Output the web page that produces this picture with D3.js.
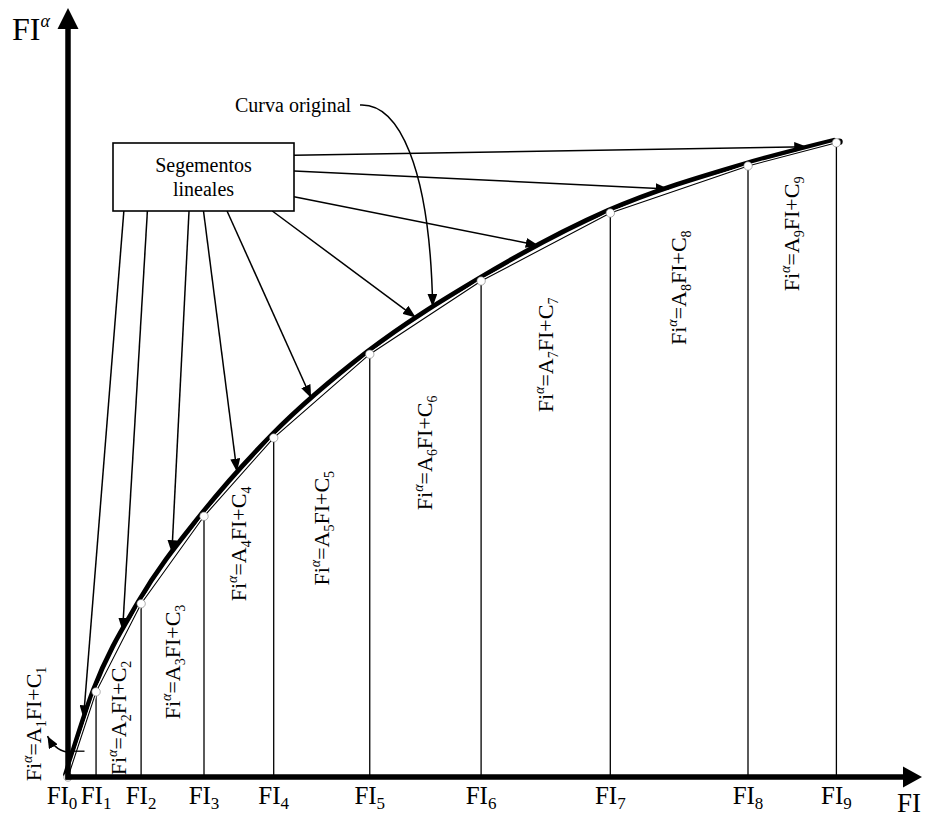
<!DOCTYPE html>
<html>
<head>
<meta charset="utf-8">
<script src="https://cdn.jsdelivr.net/npm/d3@7"></script>
<style>
  body { margin: 0; background: #fff; }
</style>
</head>
<body>
<div id="chart"></div>
<script>
// puntos de quiebre FI_k y su valor FI^alfa
const breakNames = ["0", "1", "2", "3", "4", "5", "6", "7", "8", "9"];
const fiValues = [0, 0.33, 0.86, 1.60, 2.42, 3.55, 4.86, 6.38, 8.00, 9.04];
const faValues = [0, 1.14, 2.32, 3.49, 4.54, 5.66, 6.64, 7.55, 8.18, 8.49];
// segmentos lineales 1..9 y el FI al que apunta cada flecha
const segNames = ["1", "2", "3", "4", "5", "6", "7", "8", "9"];
const arrowTargets = [0.21, 0.67, 1.25, 2.02, 2.90, 4.14, 5.59, 7.12, 8.75];
const labelLevels = [0.71, 0.79, 1.54, 3.12, 3.33, 4.34, 5.65, 6.55, 7.27];
const curveTarget = 4.32;
const tickTarget = 0.10;

const W = 928, H = 819;
const font = "'Liberation Serif', 'Times New Roman', serif";

const svg = d3.select("#chart").append("svg")
  .attr("width", W)
  .attr("height", H)
  .style("font-family", font);

const x = d3.scaleLinear().domain([0, 10]).range([68, 918]);
const y = d3.scaleLinear().domain([0, 10]).range([777, 30]);

// interpolacion sobre los segmentos
const segY = d3.scaleLinear().domain(fiValues).range(faValues);

const pts = fiValues.map((d, i) => [d, faValues[i]]);

// marcador de flecha
const defs = svg.append("defs");
defs.append("marker")
  .attr("id", "head")
  .attr("viewBox", "0 0 13 10")
  .attr("refX", 13).attr("refY", 5)
  .attr("markerWidth", 13).attr("markerHeight", 10)
  .attr("markerUnits", "userSpaceOnUse")
  .attr("orient", "auto")
  .append("path").attr("d", "M0,0L13,5L0,10Z").attr("fill", "#000");
defs.append("marker")
  .attr("id", "headSmall")
  .attr("viewBox", "0 0 12 10")
  .attr("refX", 12).attr("refY", 5)
  .attr("markerWidth", 12).attr("markerHeight", 10)
  .attr("markerUnits", "userSpaceOnUse")
  .attr("orient", "auto")
  .append("path").attr("d", "M0,0L12,5L0,10Z").attr("fill", "#000");

// lineas verticales en cada FI_k
svg.append("g")
  .selectAll("line")
  .data(pts.slice(1))
  .enter().append("line")
    .attr("x1", d => x(d[0])).attr("x2", d => x(d[0]))
    .attr("y1", y(0)).attr("y2", d => y(d[1]))
    .attr("stroke", "#000")
    .attr("stroke-width", 1.3);

// curva original (gruesa)
const curve = d3.line()
  .x(d => x(d[0])).y(d => y(d[1]))
  .curve(d3.curveMonotoneX);

svg.append("path")
  .datum(pts)
  .attr("d", curve)
  .attr("transform", "translate(-2.5,-2.5)")
  .attr("fill", "none")
  .attr("stroke", "#000")
  .attr("stroke-width", 4.8)
  .attr("stroke-linecap", "round");

// punto negro al final de la curva
const last = pts[pts.length - 1];
svg.append("circle")
  .attr("cx", x(last[0]) + 3).attr("cy", y(last[1]) - 1)
  .attr("r", 3.3).attr("fill", "#000");

// segmentos lineales (finos) con halo blanco
const poly = d3.line().x(d => x(d[0])).y(d => y(d[1]));
svg.append("path")
  .datum(pts)
  .attr("d", poly)
  .attr("fill", "none")
  .attr("stroke", "#fff")
  .attr("stroke-width", 3.2);
svg.append("path")
  .datum(pts)
  .attr("d", poly)
  .attr("fill", "none")
  .attr("stroke", "#000")
  .attr("stroke-width", 1.1);

// nodos
svg.append("g")
  .selectAll("circle")
  .data(pts)
  .enter().append("circle")
    .attr("cx", d => x(d[0]))
    .attr("cy", d => y(d[1]))
    .attr("r", 4.2)
    .attr("fill", "#fff")
    .attr("stroke", "#777")
    .attr("stroke-width", 0.6);

// ejes
svg.append("line")
  .attr("x1", 68).attr("x2", 68)
  .attr("y1", y(0) + 2.5).attr("y2", 27)
  .attr("stroke", "#000").attr("stroke-width", 5.5);
svg.append("path")
  .attr("d", "M68,8L57.5,29L78.5,29Z")
  .attr("fill", "#000");

svg.append("line")
  .attr("x1", 65.5).attr("x2", 906)
  .attr("y1", y(0)).attr("y2", y(0))
  .attr("stroke", "#000").attr("stroke-width", 5.5);
svg.append("path")
  .attr("d", "M922," + y(0) + "L903," + (y(0) - 10.5) + "L903," + (y(0) + 10.5) + "Z")
  .attr("fill", "#000");

// etiquetas del eje X
const xl = svg.append("g")
  .selectAll("text")
  .data(fiValues)
  .enter().append("text")
    .attr("x", (d, i) => x(d) + (i === 0 ? -6 : 0))
    .attr("y", 804)
    .attr("text-anchor", "middle")
    .attr("font-size", 25);
xl.append("tspan").text("FI");
xl.append("tspan")
  .attr("font-size", 17)
  .attr("dy", 5)
  .text((d, i) => breakNames[i]);

// titulos de ejes
const ty = svg.append("text")
  .attr("x", 12).attr("y", 40)
  .attr("font-size", 32);
ty.append("tspan").text("FI");
ty.append("tspan").attr("font-size", 18).attr("dy", -13).attr("font-style", "italic").text("α");

svg.append("text")
  .attr("x", 897).attr("y", 812)
  .attr("font-size", 27)
  .text("FI");

// ecuaciones de cada segmento (texto vertical)
const eq = svg.append("g")
  .selectAll("text")
  .data(segNames)
  .enter().append("text")
    .attr("transform", (d, i) => {
      const cx = i === 0 ? 41 : (x(fiValues[i]) + x(fiValues[i + 1])) / 2 + 7;
      return "translate(" + cx + "," + y(labelLevels[i]) + ") rotate(-90)";
    })
    .attr("text-anchor", "middle")
    .attr("font-size", 22);
eq.append("tspan").text("Fi");
eq.append("tspan").attr("font-size", 14).attr("font-style", "italic").attr("dy", -9).text("α");
eq.append("tspan").attr("dy", 9).text("=A");
eq.append("tspan").attr("font-size", 14).attr("dy", 5).text(d => d);
eq.append("tspan").attr("dy", -5).text("FI+C");
eq.append("tspan").attr("font-size", 14).attr("dy", 5).text(d => d);

// caja "Segementos lineales"
const box = { x: 113, y: 143, w: 181, h: 68 };
const starts = [
  [box.x + 0.06 * box.w, box.y + box.h],
  [box.x + 0.19 * box.w, box.y + box.h],
  [box.x + 0.42 * box.w, box.y + box.h],
  [box.x + 0.50 * box.w, box.y + box.h],
  [box.x + 0.63 * box.w, box.y + box.h],
  [box.x + 0.88 * box.w, box.y + box.h],
  [box.x + box.w, box.y + 0.79 * box.h],
  [box.x + box.w, box.y + 0.41 * box.h],
  [box.x + box.w, box.y + 0.18 * box.h]
];

function tipOn(t, sx, sy, back) {
  let tx = x(t) - 2.5, tyy = y(segY(t)) - 2.5;
  const dx = sx - tx, dy = sy - tyy, L = Math.hypot(dx, dy);
  return [tx + dx / L * back, tyy + dy / L * back];
}

svg.append("g")
  .selectAll("line")
  .data(arrowTargets)
  .enter().append("line")
    .each(function(t, i) {
      const s = starts[i];
      const e = tipOn(t, s[0], s[1], 2);
      d3.select(this)
        .attr("x1", s[0]).attr("y1", s[1])
        .attr("x2", e[0]).attr("y2", e[1]);
    })
    .attr("stroke", "#000")
    .attr("stroke-width", 1.5)
    .attr("marker-end", "url(#head)");

svg.append("rect")
  .attr("x", box.x).attr("y", box.y)
  .attr("width", box.w).attr("height", box.h)
  .attr("fill", "#fff")
  .attr("stroke", "#000")
  .attr("stroke-width", 1.6);
svg.append("text")
  .attr("x", box.x + box.w / 2).attr("y", box.y + 29)
  .attr("text-anchor", "middle").attr("font-size", 20)
  .text("Segementos");
svg.append("text")
  .attr("x", box.x + box.w / 2).attr("y", box.y + 53)
  .attr("text-anchor", "middle").attr("font-size", 20)
  .text("lineales");

// "Curva original"
svg.append("text")
  .attr("x", 235).attr("y", 112)
  .attr("font-size", 20)
  .text("Curva original");
const ce = tipOn(curveTarget, 430, 170, 2);
svg.append("path")
  .attr("d", "M360,105C398,103 430,165 " + ce[0] + "," + ce[1])
  .attr("fill", "none")
  .attr("stroke", "#000")
  .attr("stroke-width", 1.5)
  .attr("marker-end", "url(#head)");

// pequena flecha hacia la ecuacion del primer segmento
const ax = x(tickTarget), ay = y(segY(tickTarget));
svg.append("line")
  .attr("x1", ax - 7).attr("x2", ax + 8)
  .attr("y1", ay).attr("y2", ay)
  .attr("stroke", "#000").attr("stroke-width", 1.3);
svg.append("path")
  .attr("d", "M" + (ax - 3) + "," + (ay + 1) + "Q" + (ax - 19) + "," + (ay + 3) + " " + (ax - 29) + "," + (ay - 15))
  .attr("fill", "none")
  .attr("stroke", "#000")
  .attr("stroke-width", 1.5)
  .attr("marker-end", "url(#headSmall)");
</script>
</body>
</html>
